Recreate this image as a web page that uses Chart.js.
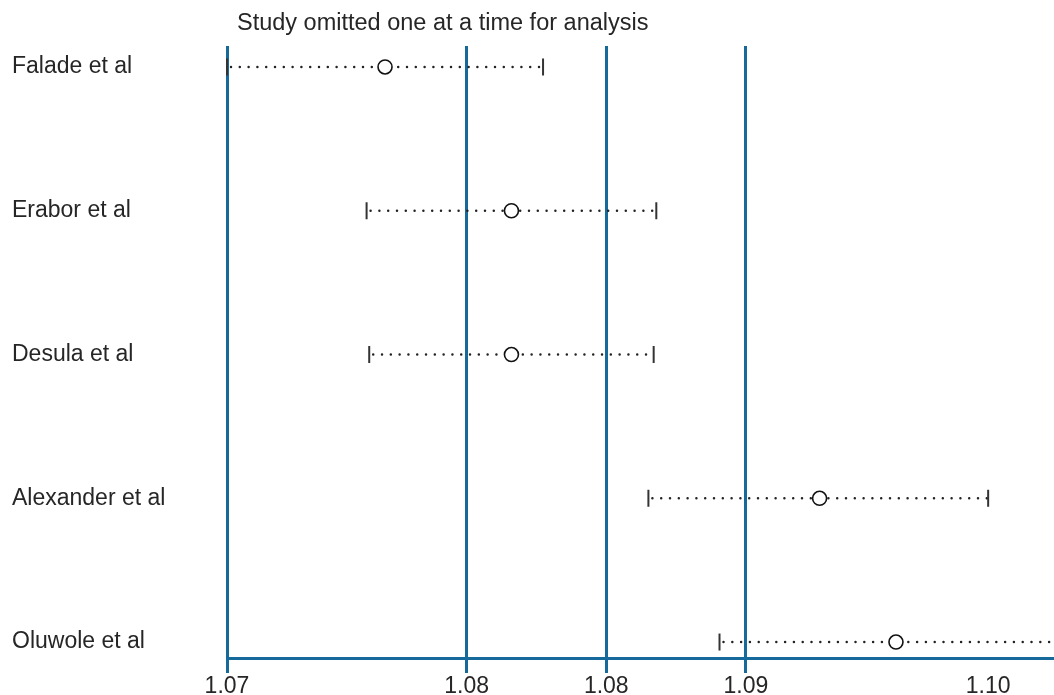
<!DOCTYPE html>
<html>
<head>
<meta charset="utf-8">
<script src="https://cdn.jsdelivr.net/npm/chart.js@4.4.0/dist/chart.umd.min.js"></script>
<style>
  html, body { margin: 0; padding: 0; background: #fff; }
  #wrap { position: relative; width: 1054px; height: 695px; }
</style>
</head>
<body>
<div id="wrap"><canvas id="infChart"></canvas></div>
<script>
// Leave-one-out estimates
const studies = ['Falade et al', 'Erabor et al', 'Desula et al', 'Alexander et al', 'Oluwole et al'];
const estimates = [1.0765, 1.0813, 1.0813, 1.0930, 1.0959];
const lowerCI = [1.0705, 1.0758, 1.0759, 1.0865, 1.0892];
const upperCI = [1.0825, 1.0868, 1.0867, 1.0994, 1.1025];

// x ticks: min lower, pooled lower CI, pooled estimate, pooled upper CI, max
const tickValues = [1.0705, 1.0796, 1.0849, 1.0902, 1.0994];
const tickLabels = ['1.07', '1.08', '1.08', '1.09', '1.10'];

const titleText = 'Study omitted one at a time for analysis';
const blue = '#15699b';
const textColor = '#262626';
const fontFamily = '"Liberation Sans", Arial, Helvetica, sans-serif';

// title drawn in canvas above the plot
const titlePlugin = {
    id: 'topTitle',
    afterDraw(chart) {
        const ctx = chart.ctx;
        ctx.save();
        ctx.font = '23.5px ' + fontFamily;
        ctx.fillStyle = textColor;
        ctx.textAlign = 'left';
        ctx.textBaseline = 'alphabetic';
        ctx.fillText(titleText, chart.chartArea.left + 10, 30);
        ctx.restore();
    }
};

function buildDatasets() {
    const sets = [];

    // hollow circles for the estimates (drawn on top)
    sets.push({
        data: estimates.map((v, i) => ({ x: v, y: i })),
        pointStyle: 'circle',
        pointRadius: 7,
        pointBorderWidth: 1.6,
        pointBorderColor: '#111111',
        pointBackgroundColor: '#ffffff',
        showLine: false,
        clip: false
    });

    // end caps of the intervals
    const caps = [];
    studies.forEach((s, i) => {
        caps.push({ x: lowerCI[i], y: i });
        caps.push({ x: upperCI[i], y: i });
    });
    sets.push({
        data: caps,
        pointStyle: 'line',
        rotation: 90,
        pointRadius: 8.5,
        pointBorderWidth: 2,
        pointBorderColor: '#333333',
        showLine: false,
        clip: false
    });

    // dotted interval lines
    studies.forEach((s, i) => {
        sets.push({
            data: [{ x: lowerCI[i], y: i }, { x: upperCI[i], y: i }],
            showLine: true,
            borderColor: '#222222',
            borderWidth: 2.5,
            borderDash: [0, 8.8],
            borderDashOffset: -4,
            borderCapStyle: 'round',
            pointRadius: 0,
            clip: { left: 0, right: 0, top: 20, bottom: 20 }
        });
    });
    return sets;
}

function initializeChart() {
    const ctx = document.getElementById('infChart').getContext('2d');

    new Chart(ctx, {
        type: 'scatter',
        data: { datasets: buildDatasets() },
        options: {
            responsive: true,
            maintainAspectRatio: false,
            animation: false,
            layout: {
                autoPadding: false,
                padding: { left: 12, right: 0, top: 46, bottom: 0 }
            },
            plugins: {
                legend: { display: false },
                tooltip: { enabled: false },
                title: { display: false }
            },
            scales: {
                x: {
                    type: 'linear',
                    min: 1.0705,
                    max: 1.1019,
                    afterBuildTicks: (scale) => {
                        scale.ticks = tickValues.map(v => ({ value: v }));
                    },
                    afterFit: (scale) => {
                        scale.height = 37;
                        scale.paddingLeft = 0;
                        scale.paddingRight = 0;
                    },
                    grid: {
                        color: (c) => (c.index < 4 ? blue : 'rgba(0,0,0,0)'),
                        lineWidth: 3,
                        tickLength: 15,
                        drawOnChartArea: true,
                        drawTicks: true
                    },
                    border: { display: true, color: blue, width: 3 },
                    ticks: {
                        autoSkip: false,
                        maxRotation: 0,
                        padding: 0,
                        color: textColor,
                        font: { family: fontFamily, size: 23 },
                        callback: (value, index) => tickLabels[index]
                    }
                },
                y: {
                    type: 'linear',
                    reverse: true,
                    min: -0.146,
                    max: 4.111,
                    afterBuildTicks: (scale) => {
                        scale.ticks = studies.map((s, i) => ({ value: i }));
                    },
                    afterFit: (scale) => {
                        scale.width = 215;
                        scale.paddingTop = 0;
                        scale.paddingBottom = 0;
                    },
                    grid: { display: false },
                    border: { display: false },
                    ticks: {
                        crossAlign: 'far',
                        color: textColor,
                        font: { family: fontFamily, size: 23 },
                        callback: (value) => studies[value]
                    }
                }
            }
        },
        plugins: [titlePlugin]
    });
}

document.addEventListener('DOMContentLoaded', initializeChart);
</script>
</body>
</html>
